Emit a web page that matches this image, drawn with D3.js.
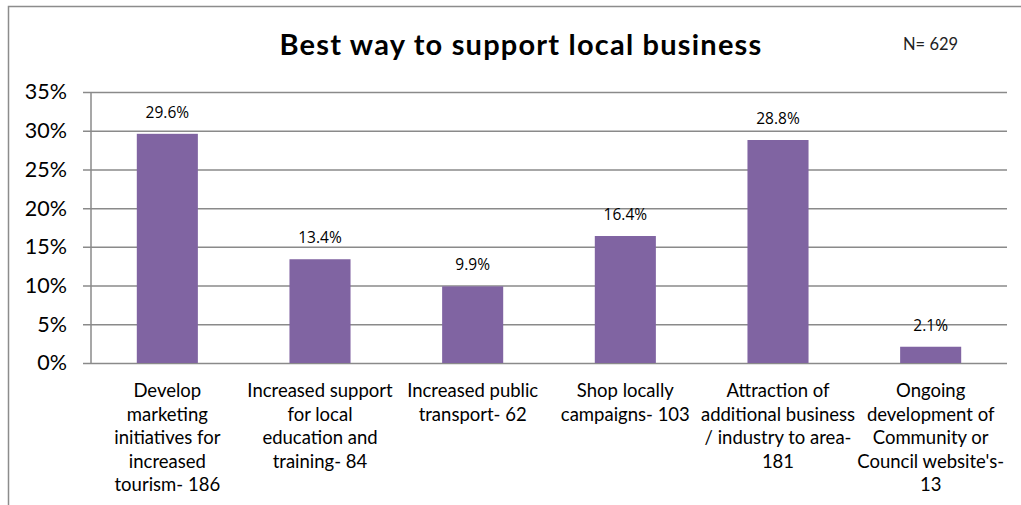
<!DOCTYPE html>
<html>
<head>
<meta charset="utf-8">
<script src="https://cdn.jsdelivr.net/npm/d3@7"></script>
<style>
  html, body { margin: 0; padding: 0; background: #fff; }
  svg { display: block; }
</style>
</head>
<body>
<svg id="chart" width="1021" height="505"></svg>
<script>
// Survey responses: best way to support local business
const categories = [
  "Develop\nmarketing\ninitiatives for\nincreased\ntourism- 186",
  "Increased support\nfor local\neducation and\ntraining- 84",
  "Increased public\ntransport- 62",
  "Shop locally\ncampaigns- 103",
  "Attraction of\nadditional business\n/ industry to area-\n181",
  "Ongoing\ndevelopment of\nCommunity or\nCouncil website's-\n13"
];
const percents = [29.6, 13.4, 9.9, 16.4, 28.8, 2.1];
const yTicks = [0, 5, 10, 15, 20, 25, 30, 35];
const titleText = "Best way to support local business";
const sampleText = "N= 629";

const svg = d3.select("#chart");
const labelFont = "Lato, 'Open Sans', sans-serif";
const valueFont = "'Open Sans', 'Noto Sans', sans-serif";

const plot = { left: 91, right: 1007, top: 92, bottom: 363 };

// Outer chart frame (left and top edges visible)
svg.append("path")
  .attr("d", `M8.5,505 V6.5 H1021`)
  .attr("fill", "none")
  .attr("stroke", "#8c8c8c")
  .attr("stroke-width", 1.5);

const x = d3.scaleBand()
  .domain(categories)
  .range([plot.left, plot.right])
  .paddingInner(0.6)
  .paddingOuter(0.3);

const y = d3.scaleLinear()
  .domain([0, 35])
  .range([plot.bottom, plot.top]);

// Horizontal gridlines and y axis
const yAxis = d3.axisLeft(y)
  .tickValues(yTicks)
  .tickSize(-(plot.right - plot.left))
  .tickPadding(24)
  .tickFormat(d => d + "%");

const gy = svg.append("g")
  .attr("transform", `translate(${plot.left},0)`)
  .call(yAxis);
gy.select(".domain").remove();
gy.selectAll(".tick line")
  .attr("x1", -8)
  .attr("stroke", "#8a8a8a")
  .attr("stroke-width", 1.5);
gy.selectAll(".tick text")
  .attr("font-family", labelFont)
  .attr("font-size", 21.5)
  .attr("fill", "#000");

// Vertical axis line
svg.append("line")
  .attr("x1", plot.left).attr("x2", plot.left)
  .attr("y1", plot.top).attr("y2", plot.bottom)
  .attr("stroke", "#8a8a8a")
  .attr("stroke-width", 1.5);

// Bars
svg.append("g")
  .selectAll("rect")
  .data(percents)
  .join("rect")
  .attr("x", (d, i) => x(categories[i]))
  .attr("y", d => y(d))
  .attr("width", x.bandwidth())
  .attr("height", d => y(0) - y(d))
  .attr("fill", "#8064A2");

// Value labels above bars
svg.append("g")
  .selectAll("text")
  .data(percents)
  .join("text")
  .attr("x", (d, i) => x(categories[i]) + x.bandwidth() / 2)
  .attr("y", d => y(d) - 16)
  .attr("text-anchor", "middle")
  .attr("font-family", valueFont)
  .attr("font-size", 15.5)
  .attr("fill", "#000")
  .text(d => d.toFixed(1) + "%");

// Category labels, wrapped on line breaks
const catGroup = svg.append("g");
categories.forEach(c => {
  const lines = c.split("\n");
  const t = catGroup.append("text")
    .attr("text-anchor", "middle")
    .attr("font-family", labelFont)
    .attr("font-size", 18.5)
    .attr("fill", "#000");
  lines.forEach((ln, j) => {
    t.append("tspan")
      .attr("x", x(c) + x.bandwidth() / 2)
      .attr("y", 397 + j * 23.5)
      .text(ln);
  });
});

// Title and sample size
svg.append("text")
  .attr("x", 521)
  .attr("y", 55)
  .attr("text-anchor", "middle")
  .attr("font-family", labelFont)
  .attr("font-weight", "bold")
  .attr("font-size", 29)
  .attr("letter-spacing", 1.2)
  .attr("fill", "#000")
  .text(titleText);

svg.append("text")
  .attr("x", 903)
  .attr("y", 50)
  .attr("font-family", labelFont)
  .attr("font-size", 16.5)
  .attr("fill", "#222")
  .text(sampleText);
</script>
</body>
</html>
